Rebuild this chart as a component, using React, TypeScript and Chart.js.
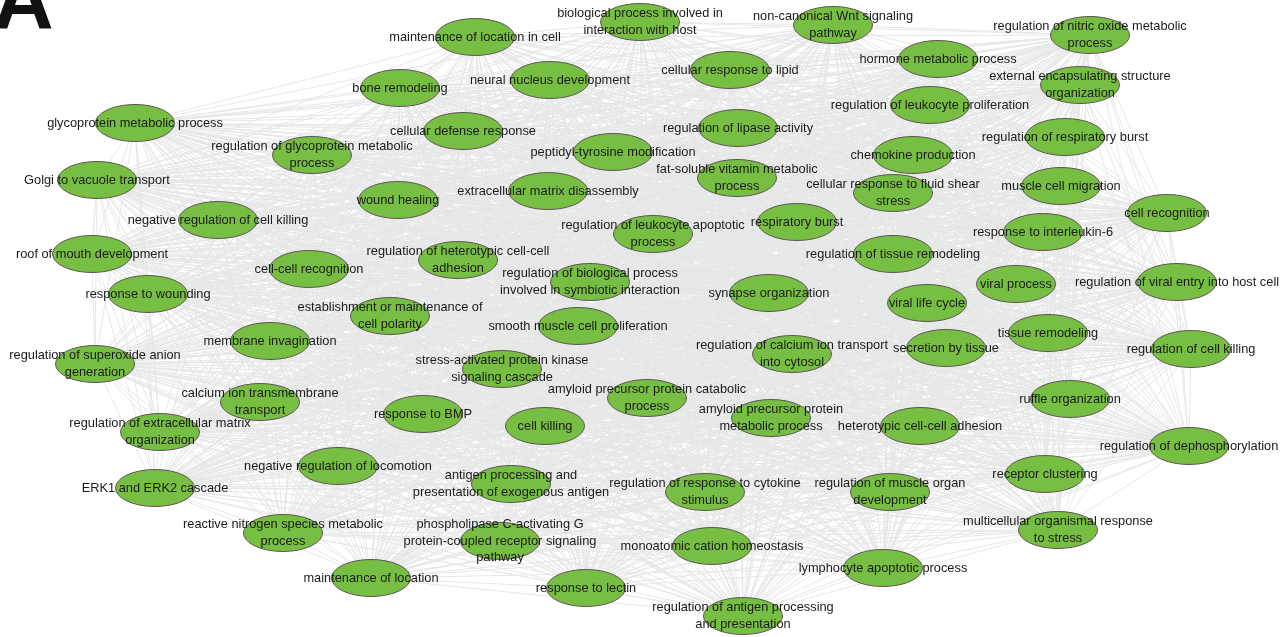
import React, { useEffect, useRef } from "react";
import { Chart, registerables } from "chart.js";

Chart.register(...registerables);

// Node labels (line-broken as in the figure)
const nodeLabels: string[][] = [
  ["maintenance of location in cell"],
  ["biological process involved in", "interaction with host"],
  ["non-canonical Wnt signaling", "pathway"],
  ["regulation of nitric oxide metabolic", "process"],
  ["bone remodeling"],
  ["neural nucleus development"],
  ["cellular response to lipid"],
  ["hormone metabolic process"],
  ["external encapsulating structure", "organization"],
  ["glycoprotein metabolic process"],
  ["regulation of glycoprotein metabolic", "process"],
  ["cellular defense response"],
  ["regulation of lipase activity"],
  ["regulation of leukocyte proliferation"],
  ["regulation of respiratory burst"],
  ["peptidyl-tyrosine modification"],
  ["chemokine production"],
  ["Golgi to vacuole transport"],
  ["fat-soluble vitamin metabolic", "process"],
  ["cellular response to fluid shear", "stress"],
  ["muscle cell migration"],
  ["wound healing"],
  ["extracellular matrix disassembly"],
  ["negative regulation of cell killing"],
  ["cell recognition"],
  ["regulation of leukocyte apoptotic", "process"],
  ["respiratory burst"],
  ["response to interleukin-6"],
  ["roof of mouth development"],
  ["regulation of heterotypic cell-cell", "adhesion"],
  ["cell-cell recognition"],
  ["regulation of tissue remodeling"],
  ["regulation of biological process", "involved in symbiotic interaction"],
  ["synapse organization"],
  ["viral process"],
  ["regulation of viral entry into host cell"],
  ["viral life cycle"],
  ["response to wounding"],
  ["establishment or maintenance of", "cell polarity"],
  ["smooth muscle cell proliferation"],
  ["membrane invagination"],
  ["tissue remodeling"],
  ["regulation of cell killing"],
  ["regulation of calcium ion transport", "into cytosol"],
  ["secretion by tissue"],
  ["regulation of superoxide anion", "generation"],
  ["stress-activated protein kinase", "signaling cascade"],
  ["calcium ion transmembrane", "transport"],
  ["amyloid precursor protein catabolic", "process"],
  ["response to BMP"],
  ["ruffle organization"],
  ["amyloid precursor protein", "metabolic process"],
  ["cell killing"],
  ["heterotypic cell-cell adhesion"],
  ["regulation of extracellular matrix", "organization"],
  ["regulation of dephosphorylation"],
  ["negative regulation of locomotion"],
  ["antigen processing and", "presentation of exogenous antigen"],
  ["regulation of response to cytokine", "stimulus"],
  ["regulation of muscle organ", "development"],
  ["receptor clustering"],
  ["ERK1 and ERK2 cascade"],
  ["reactive nitrogen species metabolic", "process"],
  ["phospholipase C-activating G", "protein-coupled receptor signaling", "pathway"],
  ["monoatomic cation homeostasis"],
  ["multicellular organismal response", "to stress"],
  ["lymphocyte apoptotic process"],
  ["maintenance of location"],
  ["response to lectin"],
  ["regulation of antigen processing", "and presentation"],
];

// Node layout positions (layout units)
const nodeX: number[] = [
  475, 640, 833, 1090, 400, 550, 730, 938, 1080, 135,
  312, 463, 738, 930, 1065, 613, 913, 97, 737, 893,
  1061, 398, 548, 218, 1167, 653, 797, 1043, 92, 458,
  309, 893, 590, 769, 1016, 1177, 927, 148, 390, 578,
  270, 1048, 1191, 792, 946, 95, 502, 260, 647, 423,
  1070, 771, 545, 920, 160, 1189, 338, 511, 705, 890,
  1045, 155, 283, 500, 712, 1058, 883, 371, 586, 743,
];
const nodeY: number[] = [
  37, 22, 25, 35, 88, 80, 70, 59, 85, 123,
  155, 131, 128, 105, 137, 152, 155, 180, 178, 193,
  186, 200, 191, 220, 213, 234, 222, 232, 254, 260,
  269, 254, 282, 293, 284, 282, 303, 294, 316, 326,
  341, 333, 349, 354, 348, 364, 369, 402, 398, 414,
  399, 418, 426, 426, 432, 446, 466, 484, 492, 492,
  474, 488, 533, 541, 546, 530, 568, 578, 588, 616,
];

const panelLetter = "A";

const EDGE_COLOR = "#e6e8e7";
const NODE_FILL = "#77bf42";
const NODE_STROKE = "#5e5450";
const FONT = '12.8px "Liberation Sans", Arial, sans-serif';

const networkPlugin = {
  id: "network",
  beforeDatasetsDraw(chart: any) {
    const meta = chart.getDatasetMeta(0);
    const pts = meta.data;
    const ctx = chart.ctx;
    ctx.save();
    ctx.strokeStyle = EDGE_COLOR;
    ctx.lineWidth = 1;
    for (let i = 0; i < pts.length; i++) {
      ctx.beginPath();
      for (let j = i + 1; j < pts.length; j++) {
        ctx.moveTo(pts[i].x, pts[i].y);
        ctx.lineTo(pts[j].x, pts[j].y);
      }
      ctx.stroke();
    }
    ctx.restore();
  },
  afterDatasetsDraw(chart: any) {
    const meta = chart.getDatasetMeta(0);
    const pts = meta.data;
    const ctx = chart.ctx;
    ctx.save();
    for (let i = 0; i < pts.length; i++) {
      ctx.beginPath();
      ctx.ellipse(pts[i].x, pts[i].y, 39.5, 18.5, 0, 0, Math.PI * 2);
      ctx.fillStyle = NODE_FILL;
      ctx.fill();
      ctx.lineWidth = 1;
      ctx.strokeStyle = NODE_STROKE;
      ctx.stroke();
    }
    ctx.font = FONT;
    ctx.fillStyle = "#1a1a1a";
    ctx.textAlign = "center";
    ctx.textBaseline = "middle";
    const lh = 16.3;
    for (let i = 0; i < pts.length; i++) {
      const lines = nodeLabels[i];
      const y0 = pts[i].y - ((lines.length - 1) * lh) / 2;
      lines.forEach((l, k) => ctx.fillText(l, pts[i].x, y0 + k * lh));
    }
    ctx.font = 'bold 84px "Liberation Sans", Arial, sans-serif';
    ctx.fillStyle = "#111";
    ctx.textAlign = "left";
    ctx.textBaseline = "alphabetic";
    ctx.fillText(panelLetter, -7, 29);
    ctx.restore();
  },
};

export default function App() {
  const ref = useRef<HTMLCanvasElement>(null);
  useEffect(() => {
    document.body.style.margin = "0";
    const canvas = ref.current!;
    const chart = new Chart(canvas, {
      type: "scatter",
      data: {
        datasets: [
          {
            data: nodeX.map((x, i) => ({ x, y: nodeY[i] })),
            pointRadius: 0,
            pointHoverRadius: 0,
          },
        ],
      },
      options: {
        responsive: false,
        animation: false,
        layout: { padding: 0 },
        scales: {
          x: { type: "linear", min: 0, max: 1281, display: false },
          y: { type: "linear", min: 0, max: 637, reverse: true, display: false },
        },
        plugins: { legend: { display: false }, tooltip: { enabled: false } },
        events: [],
      },
      plugins: [networkPlugin],
    });
    return () => chart.destroy();
  }, []);
  return (
    <div style={{ width: 1281, height: 637, background: "#fff" }}>
      <canvas ref={ref} width={1281} height={637} style={{ display: "block" }} />
    </div>
  );
}
